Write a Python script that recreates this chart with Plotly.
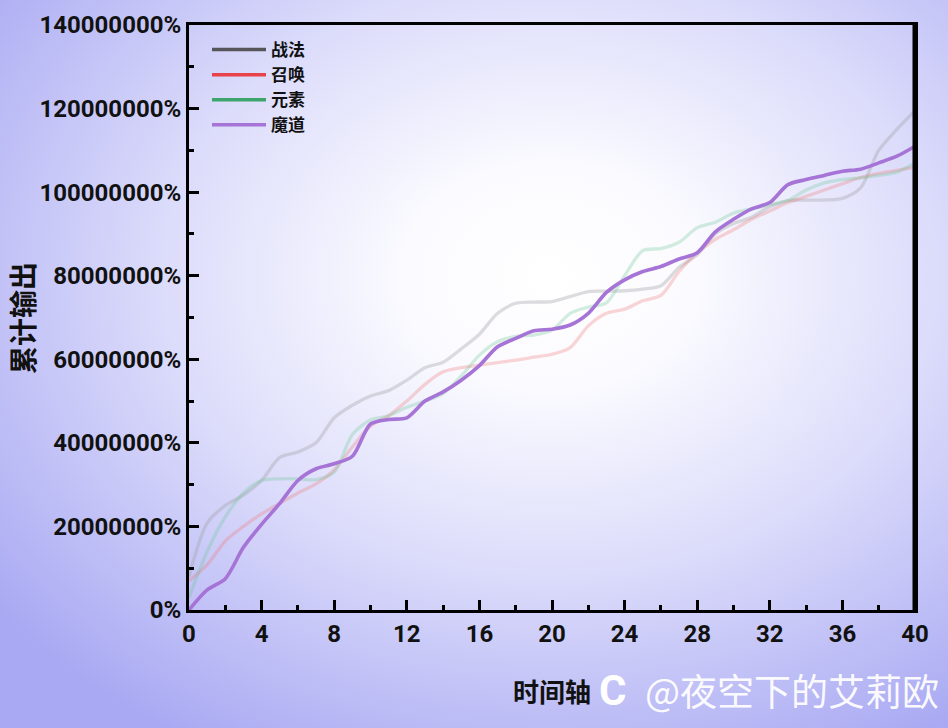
import base64
import plotly.graph_objects as go

# ---------------- data (values in millions) ----------------
x_vals = list(range(0, 41))

zhanfa = [8, 20.8, 25, 27.5, 31, 36.5, 37.8, 40, 46, 49, 51.2, 52.5, 55, 58, 59.3,
          62.5, 66, 71, 73.4, 73.7, 73.8, 75, 76.2, 76.3, 76.4, 76.8, 77.6, 82, 85,
          90, 92.5, 94, 96.5, 98, 98.1, 98.1, 98.5, 101, 110, 115, 119.5]
zhaohuan = [7, 10.8, 16.5, 20, 23, 25.5, 28, 30.2, 33.5, 39, 44, 46.5, 50, 54, 57,
            58, 58.6, 59.2, 59.8, 60.5, 61.2, 62.8, 68, 71, 72, 74, 75.3, 81, 85.5,
            88.7, 91, 93.5, 95.5, 97.5, 99, 100.5, 102, 103.5, 104.5, 105.2, 106]
yuansu = [3, 14, 22.3, 28, 31, 31.4, 31.4, 31.2, 33, 42, 45.5, 46.5, 48.5, 50, 51.8,
          56, 61, 64.2, 65.5, 65.8, 67, 71, 72.5, 73.5, 80, 86, 86.5, 88, 91.5, 92.8,
          95, 96, 97, 98, 100.5, 102.2, 103, 103.4, 104, 104.8, 107]
modao = [0, 4.8, 7.5, 15, 20.5, 25.5, 31, 33.8, 35, 36.8, 44.5, 45.6, 46, 50, 52.2,
         55, 58.5, 63, 65, 66.8, 67.2, 68.2, 71, 76, 79, 81, 82.2, 84, 85.5, 90.5,
         93.5, 96, 97.5, 101.8, 103, 104, 105, 105.5, 107, 108.6, 111]

series_names = ["战法", "召唤", "元素", "魔道"]
x_ticks = [0, 4, 8, 12, 16, 20, 24, 28, 32, 36, 40]
y_ticks = [0, 20, 40, 60, 80, 100, 120, 140]
y_tick_labels = ["0%", "20000000%", "40000000%", "60000000%", "80000000%",
                 "100000000%", "120000000%", "140000000%"]

# ---------------- figure ----------------
W, H = 948, 728
L, R, T, B = 189, 33, 25, 118
pw, ph = W - L - R, H - T - B


def px(xp):
    return (xp - L) / pw


def py(yp):
    return (H - B - yp) / ph


svg = f'''<svg xmlns="http://www.w3.org/2000/svg" width="{W}" height="{H}" viewBox="0 0 {W} {H}" preserveAspectRatio="none">
<defs><radialGradient id="g" cx="0.58" cy="0.38" r="0.74">
<stop offset="0" stop-color="#ffffff"/>
<stop offset="0.2" stop-color="#fbfbff"/>
<stop offset="0.55" stop-color="#dcdcfb"/>
<stop offset="1" stop-color="#a9a9f3"/>
</radialGradient></defs>
<rect width="{W}" height="{H}" fill="url(#g)"/></svg>'''
svg_uri = "data:image/svg+xml;base64," + base64.b64encode(svg.encode()).decode()

colors_full = ["#55555a", "#e8434b", "#3ca56d", "#a674d6"]
colors_line = ["rgba(160,160,165,0.36)", "rgba(240,120,120,0.30)",
               "rgba(110,200,150,0.30)", "#a674d6"]
data_series = [zhanfa, zhaohuan, yuansu, modao]

fig = go.Figure()
for name, ys, cl in zip(series_names, data_series, colors_line):
    fig.add_trace(go.Scatter(
        x=x_vals, y=ys, mode="lines", name=name, showlegend=False,
        line=dict(color=cl, width=3.6 if name == "魔道" else 3.3, shape="spline", smoothing=0.8),
        hoverinfo="skip"))
for name, cf in zip(series_names, colors_full):
    fig.add_trace(go.Scatter(x=[None], y=[None], mode="lines", name=name,
                             line=dict(color=cf, width=3.5)))

fig.update_layout(
    width=W, height=H,
    margin=dict(l=L, r=R, t=T, b=B),
    paper_bgcolor="#d8d8fb",
    plot_bgcolor="rgba(0,0,0,0)",
    images=[dict(source=svg_uri, xref="paper", yref="paper",
                 x=-L / pw, y=1 + T / ph, sizex=W / pw, sizey=H / ph,
                 sizing="stretch", layer="below", xanchor="left", yanchor="top")],
    showlegend=True,
    legend=dict(x=px(207), y=py(32), xanchor="left", yanchor="top",
                bgcolor="rgba(0,0,0,0)", itemwidth=54, tracegroupgap=0,
                font=dict(family="Noto Sans CJK SC", size=17, color="#111111", weight="bold")),
    font=dict(family="Roboto", color="#111111"),
)

fig.update_xaxes(
    range=[0, 40], tickvals=x_ticks, ticktext=[str(v) for v in x_ticks],
    showgrid=False, zeroline=False,
    showline=True, linecolor="black", linewidth=3, mirror=True,
    ticks="inside", ticklen=10, tickwidth=3, tickcolor="black",
    minor=dict(dtick=2, ticks="inside", ticklen=5, tickwidth=3, tickcolor="black", showgrid=False),
    tickfont=dict(family="Roboto", size=24, color="#111111", weight="bold"),
)
fig.update_yaxes(
    range=[0, 140], tickvals=y_ticks, ticktext=y_tick_labels,
    showgrid=False, zeroline=False,
    showline=True, linecolor="black", linewidth=3, mirror=True,
    ticks="inside", ticklen=10, tickwidth=3, tickcolor="black",
    minor=dict(dtick=10, ticks="inside", ticklen=5, tickwidth=3, tickcolor="black", showgrid=False),
    tickfont=dict(family="Roboto", size=24, color="#111111", weight="bold"),
)

# right border a bit thicker, as in the reference
fig.add_shape(type="line", xref="paper", yref="paper", x0=1, x1=1, y0=0, y1=1,
              line=dict(color="black", width=5))

fig.add_annotation(text="累计输出", xref="paper", yref="paper", x=px(22), y=py(318),
                   textangle=-90, xanchor="center", yanchor="middle", showarrow=False,
                   font=dict(family="Noto Sans CJK SC", size=28, color="#111111", weight="bold"))
fig.add_annotation(text="时间轴", xref="paper", yref="paper", x=px(552), y=py(690),
                   xanchor="center", yanchor="middle", showarrow=False,
                   font=dict(family="Noto Sans CJK SC", size=26, color="#111111", weight="bold"))

# watermark
fig.add_annotation(text="C", xref="paper", yref="paper", x=px(612), y=py(690),
                   xanchor="center", yanchor="middle", showarrow=False,
                   font=dict(family="Roboto", size=42, color="white", weight="bold"))
fig.add_annotation(text="@夜空下的艾莉欧", xref="paper", yref="paper",
                   x=px(941), y=py(690), xanchor="right", yanchor="middle",
                   showarrow=False,
                   font=dict(family="Noto Sans CJK SC", size=37, color="rgba(255,255,255,0.95)"))

fig.write_html("out.html", config={"displayModeBar": False},
               post_script="document.body.style.margin='0';")
